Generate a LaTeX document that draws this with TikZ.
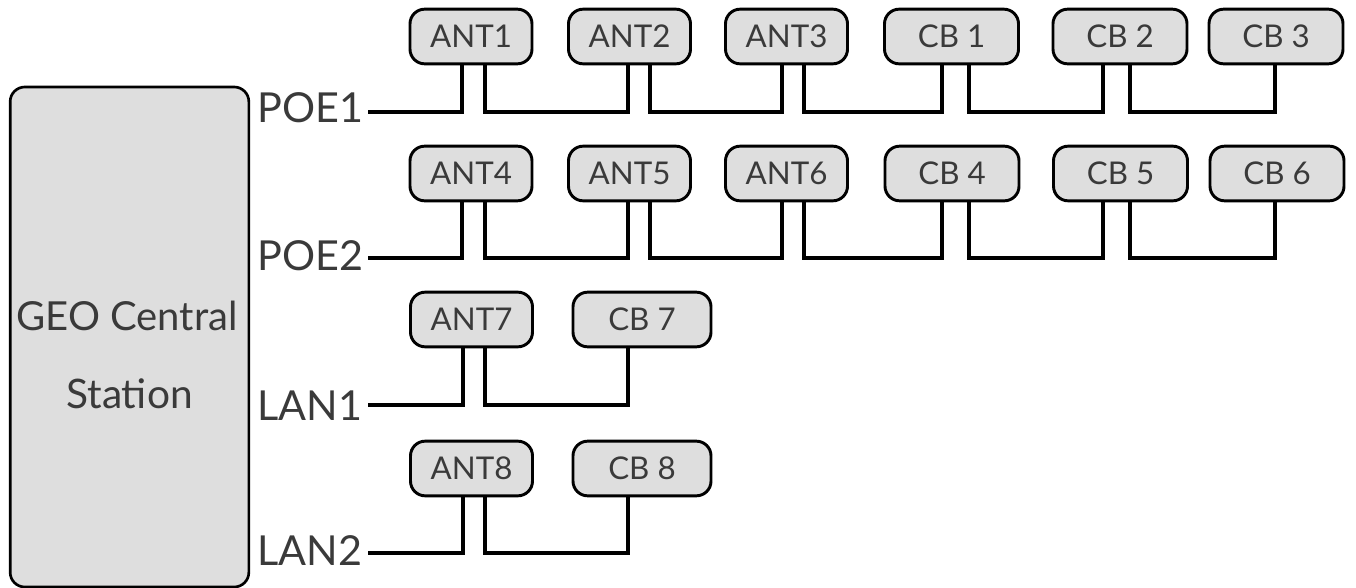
\documentclass[tikz,border=0pt]{standalone}
\usepackage{fontspec}
\setmainfont{Lato}
\usetikzlibrary{calc}
\definecolor{boxfill}{HTML}{DEDEDE}
\definecolor{txt}{HTML}{3A3A3A}
\begin{document}
\begin{tikzpicture}[x=0.75pt,y=-0.75pt,
  dev/.style={draw=black, line width=2.2pt, fill=boxfill, rounded corners=11pt,
    minimum height=41pt, inner sep=0pt, text=txt, font=\fontsize{23.5}{26}\selectfont},
  ant/.style={dev, minimum width=91.5pt},
  cbx/.style={dev, minimum width=100.5pt},
  cbs/.style={dev, minimum width=103.5pt},
  port/.style={anchor=base west, inner sep=0pt, text=txt, font=\fontsize{31}{36}\selectfont},
  wire/.style={line width=3pt, black}]
\useasboundingbox (0,0) rectangle (1356,588);
% central station
\node[draw=black, line width=2pt, fill=boxfill, rounded corners=11pt, minimum width=179pt, minimum height=375pt, inner sep=0pt] (gs) at (129.5,337) {};
\node[text=txt, font=\fontsize{30}{36}\selectfont, anchor=base] (gst1) at (127,330) {GEO Central};
\node[text=txt, font=\fontsize{30.5}{36}\selectfont, anchor=base] (gst2) at (129.5,408) {Station};
% port labels
\node[port] (p1) at (257,123) {POE1};
\node[port] (p2) at (257,270) {POE2};
\node[port] (l1) at (257,420) {LAN1};
\node[port] (l2) at (257,565) {LAN2};
\coordinate (b1) at (368,112);
\coordinate (b2) at (368,258);
\coordinate (b3) at (368,405);
\coordinate (b4) at (368,553);
% row 1
\node[ant] (a1) at (471,36.5) {ANT1};
\node[ant] (a2) at (629.5,36.5) {ANT2};
\node[ant] (a3) at (786.5,36.5) {ANT3};
\node[cbx] (c1) at (951.5,36.5) {CB 1};
\node[cbx] (c2) at (1120,36.5) {CB 2};
\node[cbx] (c3) at (1276,36.5) {CB 3};
% row 2
\node[ant] (a4) at (471,173.5) {ANT4};
\node[ant] (a5) at (629.5,173.5) {ANT5};
\node[ant] (a6) at (786.5,173.5) {ANT6};
\node[cbx] (c4) at (952,173.5) {CB 4};
\node[cbx] (c5) at (1120.5,173.5) {CB 5};
\node[cbx] (c6) at (1277,173.5) {CB 6};
% row 3, 4
\node[ant] (a7) at (471.5,319.5) {ANT7};
\node[cbs] (c7) at (642,319.5) {CB 7};
\node[ant] (a8) at (471.5,468.5) {ANT8};
\node[cbs] (c8) at (642,468.5) {CB 8};
% wires row 1
\draw[wire] (b1) -| ($(a1.south)+(-9,0)$);
\draw[wire] ($(a1.south)+(14,0)$) |- ($(b1 -| a2.south)+(-1.5,0)$) -- ($(a2.south)+(-1.5,0)$);
\draw[wire] ($(a2.south)+(20.5,0)$) |- ($(b1 -| a3.south)+(-4.5,0)$) -- ($(a3.south)+(-4.5,0)$);
\draw[wire] ($(a3.south)+(17.5,0)$) |- ($(b1 -| c1.south)+(-9.5,0)$) -- ($(c1.south)+(-9.5,0)$);
\draw[wire] ($(c1.south)+(17.5,0)$) |- ($(b1 -| c2.south)+(-17,0)$) -- ($(c2.south)+(-17,0)$);
\draw[wire] ($(c2.south)+(10,0)$) |- ($(b1 -| c3.south)+(-1,0)$) -- ($(c3.south)+(-1,0)$);
% wires row 2
\draw[wire] (b2) -| ($(a4.south)+(-9,0)$);
\draw[wire] ($(a4.south)+(14,0)$) |- ($(b2 -| a5.south)+(-1.5,0)$) -- ($(a5.south)+(-1.5,0)$);
\draw[wire] ($(a5.south)+(20.5,0)$) |- ($(b2 -| a6.south)+(-4.5,0)$) -- ($(a6.south)+(-4.5,0)$);
\draw[wire] ($(a6.south)+(17.5,0)$) |- ($(b2 -| c4.south)+(-10,0)$) -- ($(c4.south)+(-10,0)$);
\draw[wire] ($(c4.south)+(17,0)$) |- ($(b2 -| c5.south)+(-17.5,0)$) -- ($(c5.south)+(-17.5,0)$);
\draw[wire] ($(c5.south)+(9.5,0)$) |- ($(b2 -| c6.south)+(-2,0)$) -- ($(c6.south)+(-2,0)$);
% wires rows 3,4
\draw[wire] (b3) -| ($(a7.south)+(-8.5,0)$);
\draw[wire] ($(a7.south)+(13.5,0)$) |- ($(b3 -| c7.south)+(-14,0)$) -- ($(c7.south)+(-14,0)$);
\draw[wire] (b4) -| ($(a8.south)+(-8.5,0)$);
\draw[wire] ($(a8.south)+(13.5,0)$) |- ($(b4 -| c8.south)+(-14,0)$) -- ($(c8.south)+(-14,0)$);
\end{tikzpicture}
\end{document}
